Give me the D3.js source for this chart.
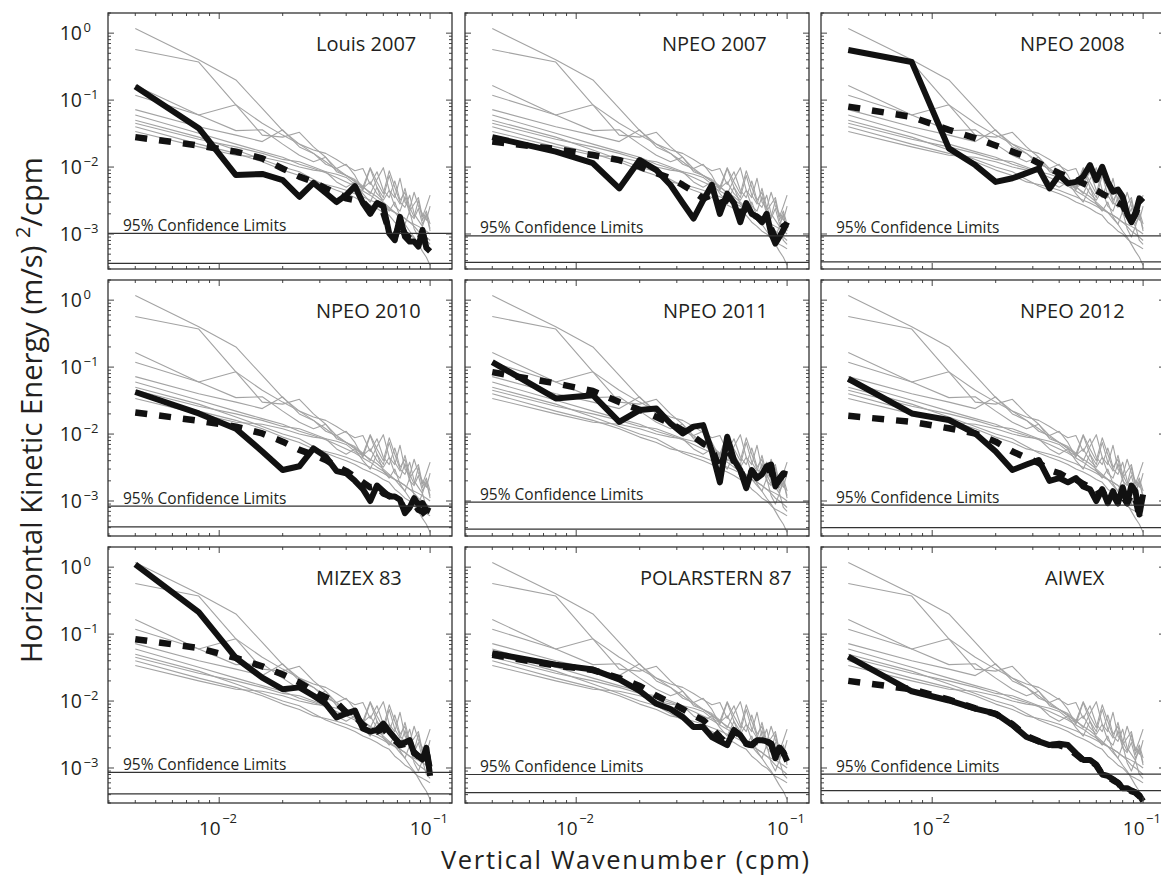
<!DOCTYPE html>
<html><head><meta charset="utf-8">
<script src="https://cdn.jsdelivr.net/npm/d3@7"></script>
<style>
body{margin:0;background:#fff}
svg{display:block}
text{font-family:"Open Sans","Noto Sans",sans-serif;fill:#231f20}
</style>
</head><body>
<svg id="chart" width="1161" height="877"></svg>
<script>
// ---------------- data ----------------
const wavenumber = [0.004,0.008,0.012,0.016,0.020,0.024,0.028,0.032,0.036,0.040,0.044,0.048,0.052,0.056,0.060,0.064,0.068,0.072,0.076,0.080,0.084,0.088,0.092,0.096,0.100];

const panelNames = ["Louis 2007","NPEO 2007","NPEO 2008","NPEO 2010","NPEO 2011","NPEO 2012","MIZEX 83","POLARSTERN 87","AIWEX"];

const louis2007 = [0.16,0.038,0.0076,0.0079,0.0064,0.0036,0.0058,0.0041,0.0030,0.0038,0.0052,0.0029,0.0020,0.0029,0.0026,0.00102,0.00081,0.0018,0.00091,0.00077,0.00077,0.00065,0.00115,0.00062,0.00055];
const louis2007Dashed = [0.028,0.021,0.017,0.0135,0.0095,0.0072,0.006,0.0048,0.0041,0.0034,0.0032,0.003,0.0023,0.0024,0.0021,0.0011,0.0009,0.0014,0.001,0.00086,0.0008,0.00077,0.001,0.00069,0.00062];

const npeo2007 = [0.028,0.017,0.0114,0.0048,0.0127,0.0090,0.0054,0.0029,0.0017,0.0032,0.0054,0.0020,0.0040,0.0029,0.0015,0.0029,0.0020,0.0018,0.0015,0.0020,0.00102,0.00072,0.00091,0.00115,0.0015];
const npeo2007Dashed = [0.024,0.0186,0.0151,0.0127,0.0101,0.0081,0.0068,0.0054,0.0043,0.0034,0.0038,0.0029,0.0032,0.0027,0.0020,0.0024,0.0020,0.0018,0.0016,0.0017,0.0012,0.00085,0.0010,0.0013,0.0014];

const npeo2008 = [0.56,0.37,0.019,0.0107,0.0060,0.0068,0.0081,0.0095,0.0048,0.0076,0.0057,0.0060,0.0072,0.0107,0.0064,0.0101,0.0060,0.0043,0.0046,0.0036,0.0020,0.0015,0.0020,0.0034,0.0030];
const npeo2008Dashed = [0.080,0.056,0.036,0.027,0.021,0.017,0.0142,0.0114,0.0095,0.0081,0.0072,0.0064,0.0057,0.0051,0.0045,0.0040,0.0036,0.0032,0.0029,0.0027,0.0020,0.0016,0.0020,0.0029,0.0027];

const npeo2010 = [0.0425,0.0203,0.012,0.0055,0.0029,0.0033,0.0061,0.0046,0.0028,0.0026,0.0020,0.0015,0.0010,0.0017,0.0014,0.00117,0.00117,0.00104,0.00066,0.0008,0.0011,0.00088,0.00093,0.00074,0.0007];
const npeo2010Dashed = [0.021,0.0158,0.0129,0.0102,0.0077,0.0058,0.0049,0.0041,0.0033,0.0028,0.0023,0.0019,0.0016,0.0017,0.0013,0.0012,0.00105,0.0010,0.00074,0.0008,0.00093,0.00074,0.0007,0.00059,0.00053];

const npeo2011 = [0.119,0.034,0.038,0.0152,0.0228,0.024,0.0144,0.0102,0.0129,0.0136,0.0055,0.0019,0.0091,0.0041,0.0029,0.00156,0.0029,0.0022,0.0025,0.0033,0.0035,0.00165,0.0022,0.0026,0.0025];
const npeo2011Dashed = [0.084,0.057,0.044,0.030,0.023,0.018,0.0144,0.0114,0.0091,0.0072,0.0061,0.0029,0.0065,0.0039,0.0029,0.0018,0.0028,0.0022,0.0023,0.0029,0.0029,0.0017,0.0021,0.0025,0.0023];

const npeo2012 = [0.067,0.0203,0.0162,0.0102,0.0055,0.0029,0.0035,0.0041,0.0020,0.0022,0.0019,0.0022,0.00165,0.0015,0.0010,0.0015,0.00093,0.0014,0.00093,0.0016,0.00093,0.0017,0.0014,0.00063,0.00125];
const npeo2012Dashed = [0.0187,0.0152,0.0122,0.0102,0.0077,0.0055,0.0044,0.0037,0.0029,0.0026,0.0022,0.0021,0.0018,0.0016,0.00125,0.0014,0.00104,0.00125,0.00093,0.0012,0.00093,0.0013,0.0011,0.0006,0.00074];

const mizex83 = [1.1,0.213,0.044,0.0224,0.015,0.016,0.012,0.0091,0.0057,0.0065,0.0072,0.0039,0.0035,0.0037,0.0046,0.0035,0.0028,0.0023,0.0024,0.0026,0.00166,0.0015,0.00134,0.002,0.00076];
const mizex83Dashed = [0.084,0.062,0.044,0.033,0.025,0.019,0.014,0.0114,0.0095,0.0068,0.006,0.0044,0.0037,0.0035,0.0039,0.0031,0.0026,0.0022,0.0023,0.0022,0.0017,0.0015,0.0014,0.0018,0.0009];

const polarstern87 = [0.052,0.035,0.0295,0.021,0.0142,0.0091,0.0076,0.0058,0.0041,0.0041,0.0029,0.0025,0.0022,0.0037,0.0031,0.0023,0.0022,0.0026,0.0026,0.0025,0.0023,0.0014,0.002,0.0017,0.00126];
const polarstern87Dashed = [0.049,0.034,0.029,0.022,0.0168,0.012,0.0095,0.0076,0.0061,0.0052,0.0039,0.0029,0.0023,0.0035,0.0031,0.0023,0.0022,0.0026,0.0026,0.0025,0.0023,0.0015,0.002,0.0017,0.0013];

const aiwex = [0.046,0.014,0.0102,0.0077,0.0065,0.0044,0.0029,0.0025,0.0022,0.0023,0.0022,0.00167,0.00132,0.00132,0.00112,0.0008,0.00076,0.00068,0.0006,0.0005,0.0005,0.00046,0.00043,0.00039,0.00032];
const aiwexDashed = [0.020,0.015,0.0105,0.0078,0.0064,0.0045,0.003,0.0025,0.0022,0.0022,0.002,0.0016,0.0013,0.0013,0.0011,0.0008,0.00074,0.00066,0.0006,0.0005,0.0005,0.00045,0.00043,0.00038,0.00033];

// background (grey) spectra, identical in every panel
const grey1 = [1.17,0.40,0.20,0.075,0.035,0.022,0.016,0.012,0.009,0.0075,0.006,0.005,0.0042,0.0036,0.003,0.0025,0.0021,0.0017,0.0014,0.0011,0.0009,0.0007,0.00055,0.00045,0.00034];
const grey2 = [0.57,0.37,0.085,0.030,0.028,0.033,0.020,0.014,0.0095,0.011,0.0075,0.0045,0.0095,0.0050,0.0035,0.0075,0.0038,0.0028,0.0048,0.0025,0.0018,0.0032,0.0016,0.0022,0.0014];
const grey3 = [0.165,0.060,0.085,0.045,0.030,0.022,0.018,0.016,0.013,0.0105,0.0088,0.0095,0.0055,0.0085,0.0045,0.0035,0.0062,0.0032,0.0042,0.0022,0.0028,0.0035,0.0018,0.0026,0.0038];
const grey4 = [0.118,0.060,0.035,0.036,0.022,0.015,0.012,0.014,0.0085,0.0075,0.0062,0.0050,0.0098,0.0060,0.0040,0.0088,0.0050,0.0030,0.0025,0.0038,0.0020,0.0016,0.0013,0.0020,0.0011];
const grey5 = [0.072,0.040,0.030,0.024,0.036,0.020,0.016,0.011,0.0095,0.0075,0.0065,0.0052,0.0040,0.0065,0.0098,0.0045,0.0035,0.0068,0.0030,0.0024,0.0042,0.0026,0.0020,0.0016,0.0026];
const grey6 = [0.060,0.032,0.022,0.017,0.014,0.011,0.0095,0.0082,0.0070,0.0060,0.0052,0.0044,0.0038,0.0032,0.0028,0.0024,0.0021,0.0019,0.0017,0.0015,0.0013,0.0011,0.0010,0.0009,0.0008];
const grey7 = [0.050,0.028,0.018,0.013,0.010,0.0085,0.0065,0.0052,0.0045,0.0040,0.0035,0.0030,0.0027,0.0024,0.0021,0.0019,0.0015,0.0013,0.0011,0.0010,0.00085,0.00075,0.0007,0.00065,0.0006];
const grey8 = [0.045,0.026,0.020,0.016,0.013,0.012,0.010,0.0085,0.0060,0.0050,0.0060,0.0040,0.0030,0.0050,0.0028,0.0022,0.0030,0.0018,0.0014,0.0022,0.0012,0.0009,0.0013,0.0008,0.0007];
const grey9 = [0.040,0.022,0.016,0.012,0.0090,0.0075,0.0060,0.0055,0.0050,0.0045,0.0040,0.0036,0.0032,0.0029,0.0026,0.0023,0.0021,0.0019,0.0017,0.0015,0.0014,0.0013,0.0012,0.0011,0.0010];
const grey10 = [0.034,0.020,0.015,0.014,0.012,0.010,0.0090,0.0085,0.0078,0.0070,0.0055,0.0048,0.0060,0.0040,0.0032,0.0045,0.0026,0.0022,0.0036,0.0020,0.0017,0.0024,0.0014,0.0019,0.0012];

const solidSpectra = [louis2007,npeo2007,npeo2008,npeo2010,npeo2011,npeo2012,mizex83,polarstern87,aiwex];
const dashedSpectra = [louis2007Dashed,npeo2007Dashed,npeo2008Dashed,npeo2010Dashed,npeo2011Dashed,npeo2012Dashed,mizex83Dashed,polarstern87Dashed,aiwexDashed];
const greySpectra = [grey1,grey2,grey3,grey4,grey5,grey6,grey7,grey8,grey9,grey10];

const confUpper = [0.00102,0.00094,0.00094,0.00084,0.00096,0.00087,0.00086,0.00080,0.00081];
const confLower = [0.000365,0.000377,0.000383,0.00041,0.00038,0.00040,0.00041,0.00043,0.00046];
const confLabel = "95% Confidence Limits";

const yMajorTicks = [1,0.1,0.01,0.001];
const yTickExponents = ["0","\u22121","\u22122","\u22123"];
const xMajorTicks = [0.01,0.1];
const xTickExponents = ["\u22122","\u22121"];
const xTitle = "Vertical Wavenumber (cpm)";
const yTitleMain = "Horizontal Kinetic Energy (m/s) ";
const yTitleSup = "2";
const yTitleEnd = "/cpm";

// ---------------- layout ----------------
const colX = [108,465,821], rowY = [13,280,547], W = 344, H = 256;
const titleDx = [208,197,199,208,198,199,208,175,224];

const svg = d3.select("#chart");
const x = d3.scaleLog().domain([0.00297,0.127]).range([0,W]);
const y = d3.scaleLog().domain([3e-4,2]).range([H,0]);
const line = d3.line().x((d,i)=>x(wavenumber[i])).y(d=>y(d));

const isMajor = v => Math.abs(Math.log10(v) - Math.round(Math.log10(v))) < 1e-6;
const xt = x.ticks(), yt = y.ticks();

panelNames.forEach((name,p)=>{
  const r = Math.floor(p/3), c = p%3;
  const g = svg.append("g").attr("transform",`translate(${colX[c]},${rowY[r]})`);
  const cid = "clip"+p;
  g.append("clipPath").attr("id",cid).append("rect").attr("width",W).attr("height",H);
  const body = g.append("g").attr("clip-path",`url(#${cid})`);

  greySpectra.forEach(s=>{
    body.append("path").datum(s).attr("d",line)
      .attr("fill","none").attr("stroke","#a3a3a3").attr("stroke-width",1.1)
      .attr("stroke-linejoin","round");
  });
  body.append("path").datum(dashedSpectra[p]).attr("d",line)
    .attr("fill","none").attr("stroke","#111").attr("stroke-width",6.5)
    .attr("stroke-dasharray","12,12").attr("stroke-linejoin","round");
  body.append("path").datum(solidSpectra[p]).attr("d",line)
    .attr("fill","none").attr("stroke","#111").attr("stroke-width",6)
    .attr("stroke-linejoin","round").attr("stroke-linecap","butt");

  [confUpper[p],confLower[p]].forEach(v=>{
    g.append("line").attr("x1",0).attr("x2",W).attr("y1",y(v)).attr("y2",y(v))
      .attr("stroke","#333").attr("stroke-width",1.2);
  });
  g.append("text").attr("x",15).attr("y",y(confUpper[p])-2.5)
    .attr("font-size",15.5).text(confLabel);

  g.append("text").attr("x",titleDx[p]).attr("y",38)
    .attr("font-size",20).text(name);

  // ticks
  const tk = g.append("g").attr("stroke","#444").attr("stroke-width",1);
  yt.forEach(v=>{
    const L = isMajor(v)?6:3, yy = y(v);
    tk.append("line").attr("x1",0).attr("x2",L).attr("y1",yy).attr("y2",yy);
    tk.append("line").attr("x1",W).attr("x2",W-L).attr("y1",yy).attr("y2",yy);
  });
  xt.forEach(v=>{
    const L = isMajor(v)?6:3, xx = x(v);
    tk.append("line").attr("x1",xx).attr("x2",xx).attr("y1",0).attr("y2",L);
    tk.append("line").attr("x1",xx).attr("x2",xx).attr("y1",H).attr("y2",H-L);
  });

  g.append("rect").attr("width",W).attr("height",H).attr("fill","none")
    .attr("stroke","#333").attr("stroke-width",1.3);

  if(c===0){
    yMajorTicks.forEach((v,i)=>{
      const yy = y(v);
      g.append("text").attr("x",-26).attr("y",yy+7).attr("text-anchor","end")
        .attr("font-size",19.5).text("10");
      g.append("text").attr("x",-24.5).attr("y",yy-1).attr("font-size",13).text(yTickExponents[i]);
    });
  }
  if(r===2){
    xMajorTicks.forEach((v,i)=>{
      const xx = x(v);
      g.append("text").attr("x",xx+1.5).attr("y",H+32).attr("text-anchor","end")
        .attr("font-size",19).text("10");
      g.append("text").attr("x",xx+3).attr("y",H+20).attr("font-size",13).text(xTickExponents[i]);
    });
  }
});

// axis titles
svg.append("text").attr("x",625).attr("y",869).attr("text-anchor","middle")
  .attr("font-size",25.5).attr("textLength",368).attr("lengthAdjust","spacing")
  .text(xTitle);

const yt0 = svg.append("text").attr("transform","translate(42,410) rotate(-90)")
  .attr("text-anchor","middle").attr("font-size",28);
yt0.append("tspan").text(yTitleMain);
yt0.append("tspan").attr("dy",-11).attr("font-size",19).text(yTitleSup);
yt0.append("tspan").attr("dy",11).text(yTitleEnd);
const yw = yt0.node().getComputedTextLength();
const fy = 28*506/yw;
yt0.attr("font-size",fy);
yt0.selectAll("tspan").filter((d,i)=>i===1).attr("font-size",fy*0.68).attr("dy",-fy*0.4);
yt0.selectAll("tspan").filter((d,i)=>i===2).attr("dy",fy*0.4);
</script>
</body></html>
